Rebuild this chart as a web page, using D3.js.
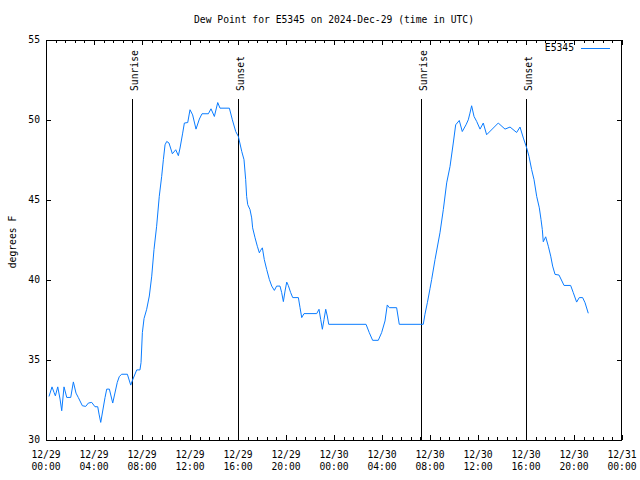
<!DOCTYPE html>
<html>
<head>
<meta charset="utf-8">
<script src="https://cdn.jsdelivr.net/npm/d3@7"></script>
<style>
  html, body { margin: 0; padding: 0; background: #fff; }
  svg { display: block; }
  text { font-family: "DejaVu Sans Mono", "Liberation Mono", monospace; font-size: 9.7px; fill: #000; }
</style>
</head>
<body>
<svg id="chart" width="640" height="480"></svg>
<script>
// ---- data (hours since 2024-12-29 00:00 UTC, dew point in °F) ----
const hours = [0.25,0.50,0.67,0.78,0.98,1.17,1.31,1.50,1.73,2.06,2.28,2.50,2.69,3.03,3.31,3.53,3.81,4.08,4.31,4.42,4.56,4.92,5.06,5.28,5.56,5.94,6.11,6.31,6.78,7.06,7.19,7.56,7.83,7.92,8.03,8.17,8.39,8.61,8.81,9.00,9.22,9.44,9.64,9.78,9.92,10.06,10.25,10.53,10.81,11.03,11.17,11.39,11.53,11.81,12.00,12.22,12.50,12.78,13.00,13.53,13.75,14.03,14.31,14.50,15.28,15.53,15.81,16.03,16.31,16.50,16.64,16.72,16.81,17.00,17.14,17.22,17.42,17.61,17.78,17.89,18.03,18.19,18.39,18.61,18.81,19.03,19.22,19.50,19.64,19.78,19.92,20.06,20.19,20.39,20.56,21.03,21.17,21.31,21.50,22.56,22.75,22.89,23.03,23.17,23.31,23.44,23.56,26.67,26.94,27.22,27.69,27.97,28.25,28.44,28.61,29.22,29.44,31.44,31.58,31.78,32.00,32.14,32.42,32.83,33.11,33.39,33.67,33.94,34.14,34.44,34.69,35.00,35.19,35.33,35.47,35.67,35.89,36.17,36.44,36.72,37.69,38.25,38.67,39.22,39.50,39.78,40.06,40.25,40.47,40.67,40.89,41.11,41.25,41.36,41.44,41.64,41.86,42.06,42.22,42.42,42.75,43.17,43.72,43.94,44.22,44.44,44.72,44.92,45.19];
const dewPoint = [32.72,33.32,32.97,32.76,33.32,32.56,31.83,33.32,32.66,32.66,33.63,32.93,32.66,32.14,32.10,32.31,32.35,32.08,32.08,31.62,31.10,32.66,33.18,33.18,32.31,33.60,33.97,34.11,34.11,33.43,33.70,34.38,34.38,34.84,36.71,37.59,38.17,39.00,40.24,41.91,43.36,45.23,46.48,47.52,48.45,48.66,48.56,47.89,48.14,47.77,48.25,49.18,49.81,49.84,50.64,50.32,49.43,50.06,50.39,50.39,50.70,50.22,51.09,50.74,50.74,50.01,49.28,48.97,48.04,47.52,46.27,45.23,44.71,44.40,43.88,43.26,42.64,42.11,41.70,41.86,42.01,41.28,40.66,40.04,39.62,39.35,39.62,39.62,39.21,38.65,39.31,39.87,39.66,39.21,38.90,38.90,38.27,37.65,37.90,37.90,38.17,37.54,36.92,37.54,38.17,37.75,37.23,37.23,36.71,36.23,36.23,36.71,37.44,38.44,38.27,38.27,37.23,37.23,37.86,38.58,39.46,40.04,41.28,42.95,44.40,46.07,47.10,48.56,49.70,49.97,49.28,49.70,50.01,50.43,50.89,50.22,49.91,49.43,49.81,49.08,49.81,49.43,49.56,49.22,49.56,48.87,48.25,47.72,46.90,46.27,45.23,44.51,43.78,43.15,42.39,42.70,42.11,41.49,40.87,40.35,40.31,39.66,39.66,39.21,38.62,38.90,38.90,38.58,37.92];
const sunEvents = [
  {label: "Sunrise", hour: 7.19},
  {label: "Sunset",  hour: 16.03},
  {label: "Sunrise", hour: 31.22},
  {label: "Sunset",  hour: 40.03}
];
const yTicks = [30, 35, 40, 45, 50, 55];
const xTickDates = ["12/29","12/29","12/29","12/29","12/29","12/29","12/30","12/30","12/30","12/30","12/30","12/30","12/31"];
const xTickTimes = ["00:00","04:00","08:00","12:00","16:00","20:00","00:00","04:00","08:00","12:00","16:00","20:00","00:00"];
const title = "Dew Point for E5345 on 2024-Dec-29 (time in UTC)";
const seriesName = "E5345";
const yLabel = "degrees F";

// ---- layout ----
const mLeft = 46, mRight = 622, mTop = 40, mBottom = 440;
const color = "#0a7cff";
const t0 = Date.UTC(2024, 11, 29);
const toDate = h => new Date(t0 + h * 3600e3);

const x = d3.scaleUtc().domain([toDate(0), toDate(48)]).range([mLeft, mRight]);
const y = d3.scaleLinear().domain([30, 55]).range([mBottom, mTop]);

const svg = d3.select("#chart");

// title
svg.append("text").attr("x", 334).attr("y", 23).attr("text-anchor", "middle").text(title);

// y label
svg.append("text").attr("transform", "translate(13,242) rotate(-90)")
  .attr("text-anchor", "middle").attr("dy", "0.35em").text(yLabel);

const g = svg.append("g");

// minor x ticks (every 48 min) and major (every 4 h)
const minorHours = d3.range(0, 48.001, 0.8);
const majorHours = d3.range(0, 48.001, 4);
const tickG = g.append("g").attr("stroke", "#000").attr("stroke-width", 1);
minorHours.forEach(h => {
  const xx = Math.round(x(toDate(h))) + 0.5;
  tickG.append("line").attr("x1", xx).attr("x2", xx).attr("y1", mBottom).attr("y2", mBottom - 3);
  tickG.append("line").attr("x1", xx).attr("x2", xx).attr("y1", mTop).attr("y2", mTop + 3);
});
majorHours.forEach(h => {
  const xx = Math.round(x(toDate(h))) + 0.5;
  tickG.append("line").attr("x1", xx).attr("x2", xx).attr("y1", mBottom).attr("y2", mBottom - 5);
  tickG.append("line").attr("x1", xx).attr("x2", xx).attr("y1", mTop).attr("y2", mTop + 5);
});
yTicks.forEach(v => {
  const yy = Math.round(y(v)) + 0.5;
  tickG.append("line").attr("x1", mLeft).attr("x2", mLeft + 5).attr("y1", yy).attr("y2", yy);
  tickG.append("line").attr("x1", mRight).attr("x2", mRight - 5).attr("y1", yy).attr("y2", yy);
});

// y tick labels
yTicks.forEach(v => {
  g.append("text").attr("x", 40).attr("y", y(v)).attr("dy", "0.35em")
    .attr("text-anchor", "end").text(v);
});

// x tick labels (two lines)
majorHours.forEach((h, i) => {
  const t = g.append("text").attr("text-anchor", "middle").attr("x", x(toDate(h)));
  t.append("tspan").attr("x", x(toDate(h))).attr("y", 458).text(xTickDates[i]);
  t.append("tspan").attr("x", x(toDate(h))).attr("y", 470).text(xTickTimes[i]);
});

// sun lines
sunEvents.forEach(s => {
  const xx = Math.round(x(toDate(s.hour))) + 0.5;
  g.append("line").attr("x1", xx).attr("x2", xx).attr("y1", mBottom).attr("y2", 99)
    .attr("stroke", "#000").attr("stroke-width", 1);
  g.append("text").attr("transform", `translate(${xx + 2},91) rotate(-90)`)
    .attr("dy", "0.35em").attr("text-anchor", "start").text(s.label);
});

// data line
const pts = hours.map((h, i) => [toDate(h), dewPoint[i]]);
g.append("path").datum(pts)
  .attr("fill", "none").attr("stroke", color).attr("stroke-width", 1)
  .attr("d", d3.line().x(d => x(d[0])).y(d => y(d[1])));

// frame
g.append("rect").attr("x", mLeft + 0.5).attr("y", mTop + 0.5)
  .attr("width", mRight - mLeft - 1).attr("height", mBottom - mTop)
  .attr("fill", "none").attr("stroke", "#000").attr("stroke-width", 1);

// legend
g.append("text").attr("x", 574).attr("y", 48).attr("dy", "0.35em").attr("text-anchor", "end").text(seriesName);
g.append("line").attr("x1", 581).attr("x2", 610).attr("y1", 48.5).attr("y2", 48.5)
  .attr("stroke", color).attr("stroke-width", 1);
</script>
</body>
</html>
